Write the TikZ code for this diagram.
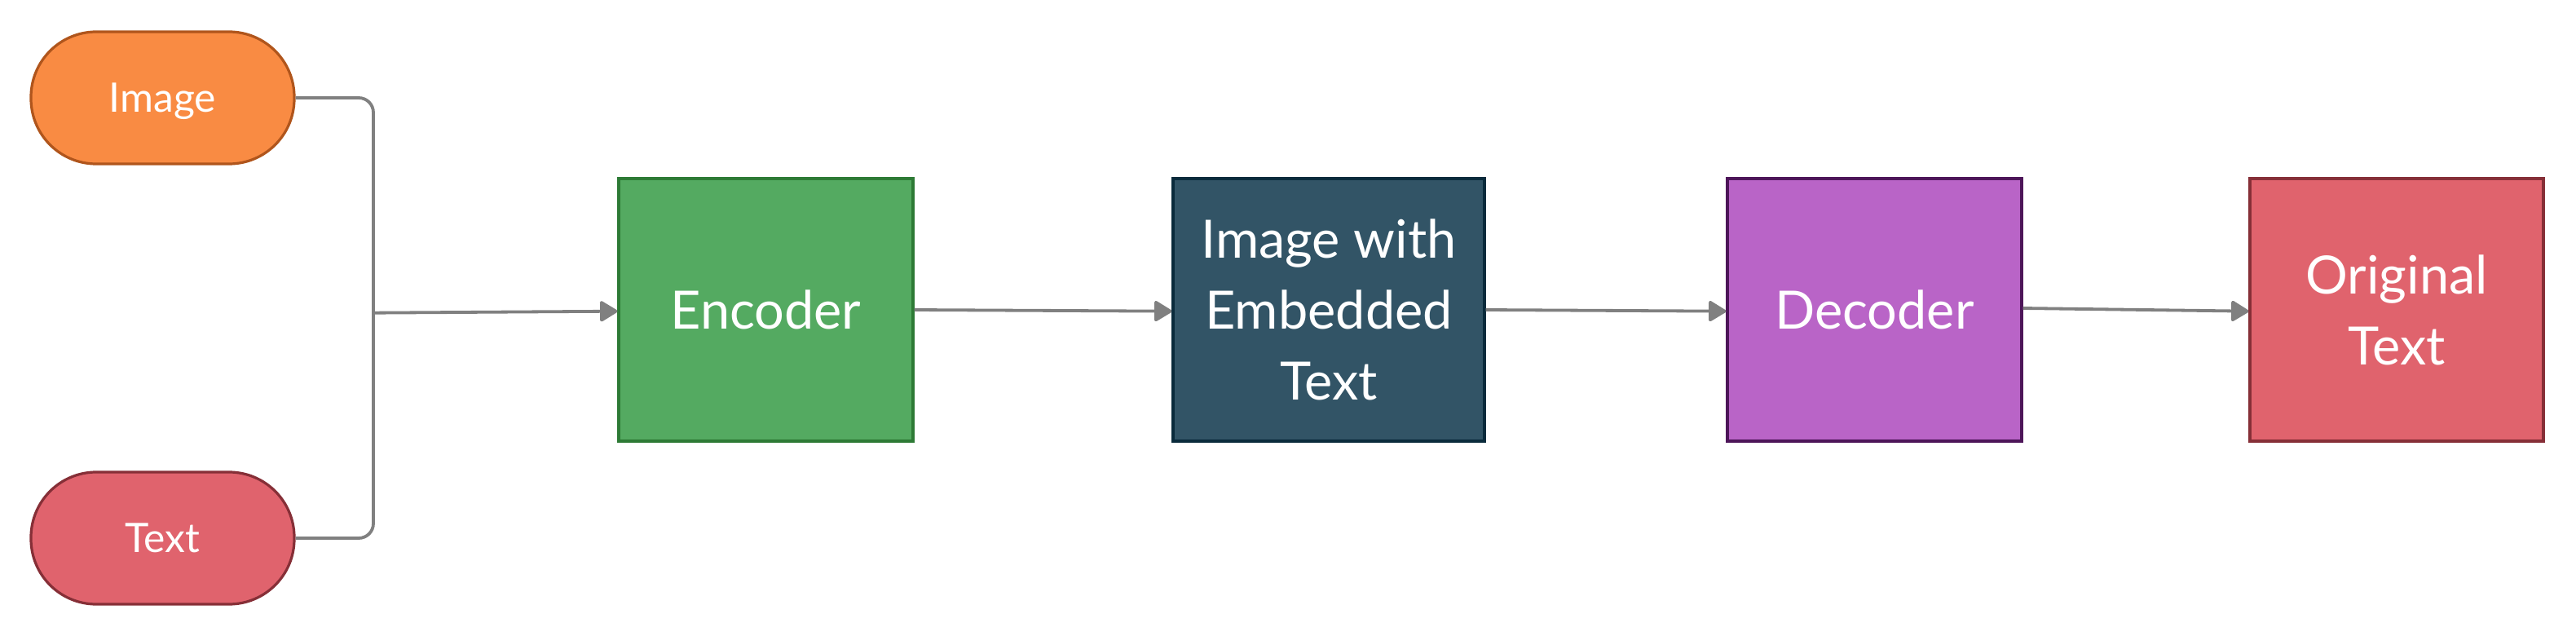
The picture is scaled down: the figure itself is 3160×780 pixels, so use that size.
\documentclass[tikz,border=0pt]{standalone}
\usepackage{fontspec}
\setmainfont{Lato}
\usetikzlibrary{arrows.meta,calc}
\definecolor{orfill}{HTML}{F98B43}
\definecolor{ordraw}{HTML}{B0551C}
\definecolor{rdfill}{HTML}{E0636D}
\definecolor{rddraw}{HTML}{862F37}
\definecolor{grfill}{HTML}{54AA61}
\definecolor{grdraw}{HTML}{2D7A35}
\definecolor{blfill}{HTML}{325466}
\definecolor{bldraw}{HTML}{0A2B3C}
\definecolor{pufill}{HTML}{B964C7}
\definecolor{pudraw}{HTML}{4D1559}
\definecolor{conn}{HTML}{808080}
\tikzset{
  pill/.style={draw, line width=0.8pt, rounded corners=20pt, minimum width=80.75pt, minimum height=40.5pt, inner sep=0pt, text height=8.9pt, text depth=0pt, text=white, font=\fontsize{12.45pt}{15pt}\selectfont},
  blockbox/.style={draw, line width=0.8pt, minimum height=80.5pt, inner sep=0pt, text=white, align=center, font=\fontsize{16.2pt}{21.7pt}\selectfont},
  link/.style={draw=conn, line width=0.95pt, line join=round},
  arrowlink/.style={link, -{Triangle[length=5.8pt,width=6.8pt,round]}}
}
\begin{document}
\begin{tikzpicture}[x=0.25pt,y=-0.25pt]
\useasboundingbox[fill=white] (0,0) rectangle (3160,780);
\node[pill, fill=orfill, draw=ordraw] (img) at (199.5,120) {Image};
\node[pill, fill=rdfill, draw=rddraw] (txt) at (199.5,660) {Text};
\node[blockbox, fill=grfill, draw=grdraw, minimum width=90.25pt] (enc) at (939.5,380) {Encoder};
\node[blockbox, fill=blfill, draw=bldraw, minimum width=95.5pt] (emb) at (1630,380) {Image with\\Embedded\\Text};
\node[blockbox, fill=pufill, draw=pudraw, minimum width=90.25pt] (dec) at (2299.5,380) {Decoder};
\node[blockbox, fill=rdfill, draw=rddraw, minimum width=90pt] (orig) at (2940,380) {Original\\Text};
\coordinate (busx) at (458,0);
\coordinate (busmid) at (458,383.7);
\draw[link, rounded corners=4.5pt] (img.east) -- (img.east -| busx) -- (txt.east -| busx) -- (txt.east);
\draw[arrowlink] (busmid) -- ($(enc.west)+(0,1.7)$);
\draw[arrowlink] (enc.east) -- ($(emb.west)+(0,1.7)$);
\draw[arrowlink] (emb.east) -- ($(dec.west)+(0,1.7)$);
\draw[arrowlink] ($(dec.east)+(0,-2)$) -- ($(orig.west)+(0,1.7)$);
\end{tikzpicture}
\end{document}
